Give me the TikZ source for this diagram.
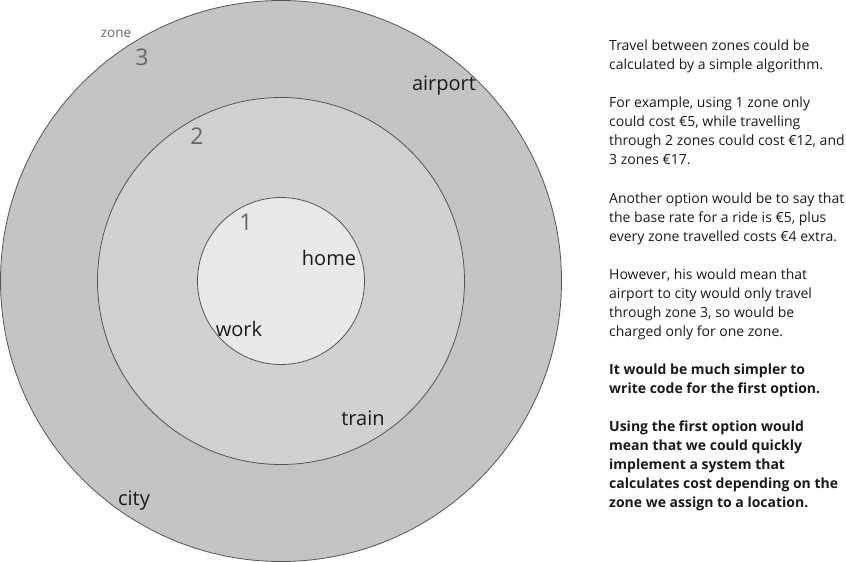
\documentclass[tikz,border=0pt]{standalone}
\usepackage{fontspec}
\setmainfont{Open Sans}
\definecolor{zoneA}{HTML}{C5C4C3}
\definecolor{zoneB}{HTML}{D1D1D1}
\definecolor{zoneC}{HTML}{E9E9E9}
\definecolor{rim}{HTML}{555555}
\definecolor{numgray}{HTML}{666666}
\definecolor{ink}{HTML}{1A1A1A}
\begin{document}
\begin{tikzpicture}[x=1pt,y=-1pt,
  ring/.style={circle,draw=rim,line width=0.8pt,inner sep=0pt},
  place/.style={font=\fontsize{20}{24}\selectfont,text=ink,inner sep=0pt},
  zonenum/.style={font=\fontsize{23}{26}\selectfont,text=numgray,inner sep=0pt},
  note/.style={font=\fontsize{14}{19}\selectfont,text=ink,anchor=base west,inner sep=0pt},
  bnote/.style={note,font=\fontsize{14}{19}\selectfont\bfseries}]
\useasboundingbox (0,0) rectangle (846,562);
\node[ring,fill=zoneA,minimum size=561pt] (z3) at (281,281) {};
\node[ring,fill=zoneB,minimum size=367pt] (z2) at (281,281) {};
\node[ring,fill=zoneC,minimum size=167pt] (z1) at (281,281) {};
\node[font=\fontsize{13.5}{15}\selectfont,text=numgray,inner sep=0pt] (zl) at (116,34) {zone};
\node[zonenum] (n3) at (142,57) {3};
\node[zonenum] (n2) at (197,136) {2};
\node[zonenum] (n1) at (246,222) {1};
\node[place] (airport) at (444,86) {airport};
\node[place] (home) at (329,258) {home};
\node[place] (work) at (239,329) {work};
\node[place] (train) at (363,418) {train};
\node[place] (city) at (134,501) {city};
\node[note] (t1) at (609,50) {Travel between zones could be};
\node[note] (t2) at (609,69) {calculated by a simple algorithm.};
\node[note] (t3) at (609,107) {For example, using 1 zone only};
\node[note] (t4) at (609,126) {could cost €5, while travelling};
\node[note] (t5) at (609,145) {through 2 zones could cost €12, and};
\node[note] (t6) at (609,164) {3 zones €17.};
\node[note] (t7) at (609,203) {Another option would be to say that};
\node[note] (t8) at (609,222) {the base rate for a ride is €5, plus};
\node[note] (t9) at (609,241) {every zone travelled costs €4 extra.};
\node[note] (t10) at (609,279) {However, his would mean that};
\node[note] (t11) at (609,298) {airport to city would only travel};
\node[note] (t12) at (609,317) {through zone 3, so would be};
\node[note] (t13) at (609,336) {charged only for one zone.};
\node[bnote] (t14) at (609,374) {It would be much simpler to};
\node[bnote] (t15) at (609,393) {write code for the first option.};
\node[bnote] (t16) at (609,431) {Using the first option would};
\node[bnote] (t17) at (609,450) {mean that we could quickly};
\node[bnote] (t18) at (609,469) {implement a system that};
\node[bnote] (t19) at (609,488) {calculates cost depending on the};
\node[bnote] (t20) at (609,507) {zone we assign to a location.};
\end{tikzpicture}
\end{document}
